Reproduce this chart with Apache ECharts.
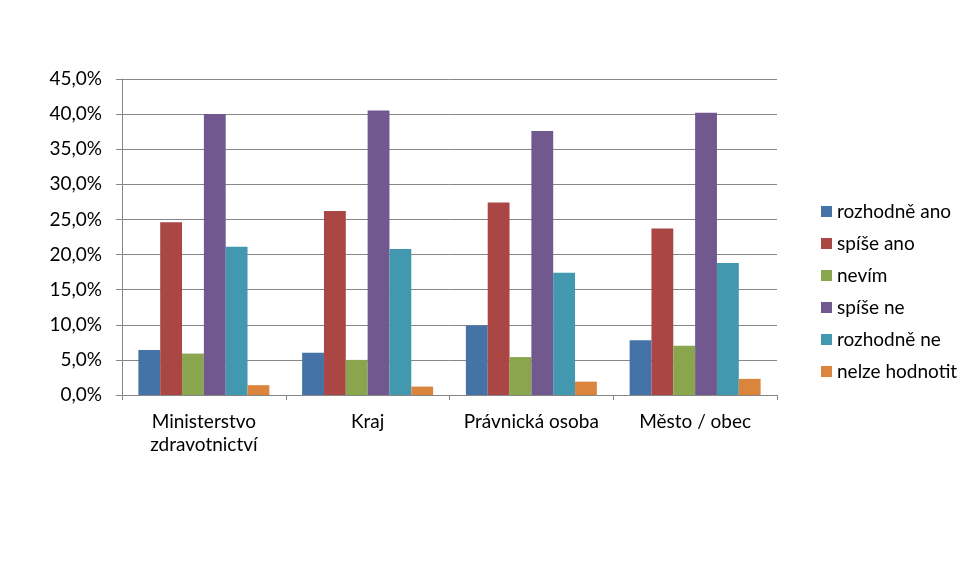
<!DOCTYPE html>
<html><head><meta charset="utf-8">
<script src="https://cdn.jsdelivr.net/npm/echarts@6/dist/echarts.min.js"></script>
<style>html,body{margin:0;padding:0;background:#fff}#c{width:980px;height:584px}</style>
</head><body><div id="c"></div>
<script>
var categories = ['Ministerstvo\nzdravotnictví', 'Kraj', 'Právnická osoba', 'Město / obec'];
var seriesNames = ['rozhodně ano', 'spíše ano', 'nevím', 'spíše ne', 'rozhodně ne', 'nelze hodnotit'];
var rozhodneAno = [6.4, 6.0, 9.9, 7.8];
var spiseAno = [24.6, 26.2, 27.4, 23.7];
var nevim = [5.9, 5.0, 5.4, 7.0];
var spiseNe = [40.0, 40.5, 37.6, 40.2];
var rozhodneNe = [21.1, 20.8, 17.4, 18.8];
var nelzeHodnotit = [1.4, 1.2, 1.9, 2.3];
var colors = ['#4572A7', '#AA4643', '#89A54E', '#71588F', '#4198AF', '#DB843D'];
var values = [rozhodneAno, spiseAno, nevim, spiseNe, rozhodneNe, nelzeHodnotit];

var font = 'Lato, "Open Sans", sans-serif';
var fs = 19;
var chart = echarts.init(document.getElementById('c'));
chart.setOption({
  animation: false,
  color: colors,
  textStyle: { fontFamily: font },
  grid: { left: 122, right: 203, top: 79, bottom: 189, containLabel: false },
  legend: {
    orient: 'vertical', left: 821, top: 202, padding: 0, itemWidth: 11, itemHeight: 11,
    itemGap: 13, icon: 'rect',
    textStyle: { fontSize: fs, color: '#000', fontFamily: font },
    data: seriesNames
  },
  xAxis: {
    type: 'category', data: categories,
    axisLine: { lineStyle: { color: '#868686' } },
    axisTick: { show: true, length: 5, alignWithLabel: false, lineStyle: { color: '#868686' } },
    axisLabel: { color: '#000', fontSize: fs, margin: 15, lineHeight: 23, interval: 0 }
  },
  yAxis: {
    type: 'value', min: 0, max: 45, interval: 5,
    axisLine: { show: true, lineStyle: { color: '#868686' } },
    axisTick: { show: true, length: 6, lineStyle: { color: '#868686' } },
    splitLine: { lineStyle: { color: '#868686', width: 1 } },
    axisLabel: { color: '#000', fontSize: fs, margin: 20,
      formatter: function (v) { return v.toFixed(1).replace('.', ',') + '%'; } }
  },
  series: seriesNames.map(function (n, i) {
    return { name: n, type: 'bar', data: values[i], barGap: '0%', barCategoryGap: '20%' };
  })
});
</script></body></html>
